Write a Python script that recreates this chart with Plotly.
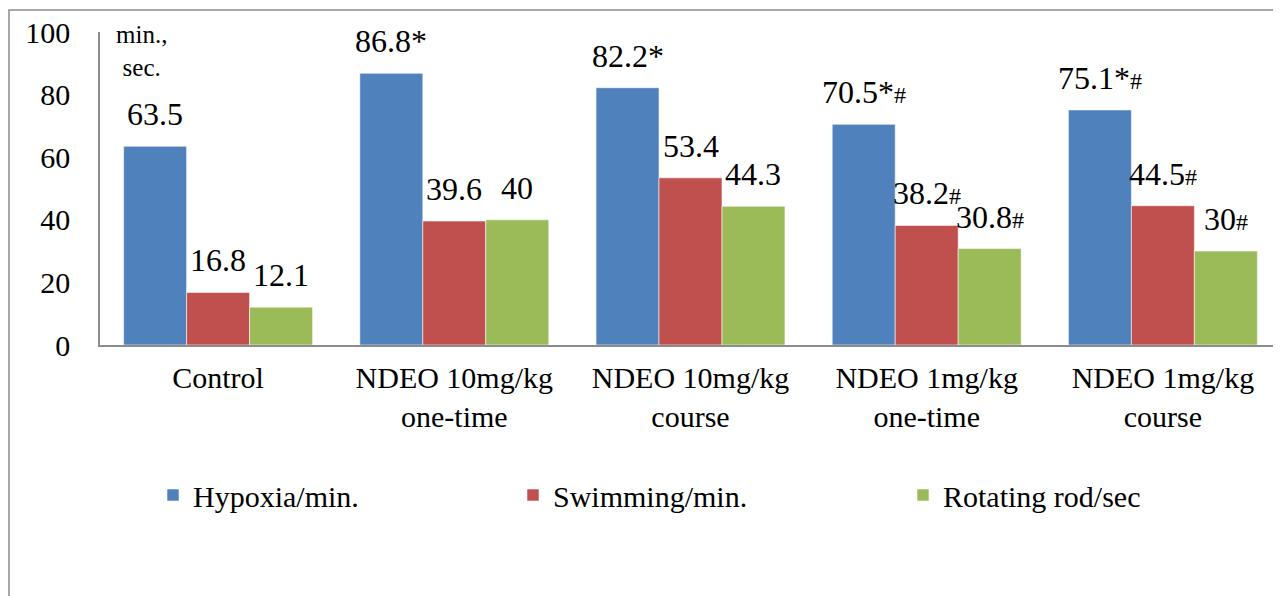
import plotly.graph_objects as go

categories = ["Control", "NDEO 10mg/kg<br>one-time", "NDEO 10mg/kg<br>course",
              "NDEO 1mg/kg<br>one-time", "NDEO 1mg/kg<br>course"]
series_names = ["Hypoxia/min.", "Swimming/min.", "Rotating rod/sec"]
hypoxia = [63.5, 86.8, 82.2, 70.5, 75.1]
swimming = [16.8, 39.6, 53.4, 38.2, 44.5]
rotating = [12.1, 40, 44.3, 30.8, 30]
hypoxia_marks = ["", "*", "*", "*#", "*#"]
swimming_marks = ["", "", "", "#", "#"]
rotating_marks = ["", "", "", "#", "#"]
y_ticks = [0, 20, 40, 60, 80, 100]
unit_text = "min.,<br>sec."

colors = ["#4F81BD", "#C0504D", "#9BBB59"]
FONT = "'Liberation Serif', Tinos, 'Times New Roman', 'DejaVu Serif', serif"

OFF = 8  # page body margin
W, H = 1281 - OFF, 596 - OFF
# target screen geometry
PX_L, PX_R, PX_T, PX_B = 100, 1281, 32, 345
ML = PX_L - OFF
MR = W - (PX_R - OFF)
MT = PX_T - OFF
MB = H - (PX_B - OFF)
PW = W - ML - MR
PH = H - MT - MB
bargap = 0.2


def fmt(v):
    return ("%g" % v)


def px_x(sx):
    return (sx - PX_L) / PW


def px_y(sy):
    return (PX_B - sy) / PH


fig = go.Figure()
all_vals = [hypoxia, swimming, rotating]
all_marks = [hypoxia_marks, swimming_marks, rotating_marks]
legends = ["legend", "legend2", "legend3"]
for i, (name, vals) in enumerate(zip(series_names, all_vals)):
    fig.add_trace(go.Bar(
        x=categories, y=vals, name=name,
        marker=dict(color=colors[i], line=dict(width=0.8, color="rgba(255,255,255,0.7)")),
        legend=legends[i], showlegend=True,
    ))

# data labels
bar_px = PW / len(categories) * (1 - bargap) / 3
for i in range(3):
    for j, cat in enumerate(categories):
        txt = fmt(all_vals[i][j])
        for ch in all_marks[i][j]:
            if ch == "#":
                txt += '<span style="font-size:24px">#</span>'
            else:
                txt += ch
        fig.add_annotation(
            x=cat, y=all_vals[i][j], xref="x", yref="y",
            text=txt, showarrow=False,
            xanchor="center", yanchor="bottom",
            xshift=(i - 1) * bar_px, yshift=12,
            font=dict(family=FONT, size=32, color="black"),
        )

# unit annotation
fig.add_annotation(
    x=px_x(141), y=px_y(19), xref="paper", yref="paper",
    text=unit_text, showarrow=False, xanchor="center", yanchor="top",
    font=dict(family=FONT, size=25, color="black"), align="center",
)

# outer frame
fig.add_shape(type="rect", xref="paper", yref="paper",
              x0=px_x(9), x1=px_x(1300),
              y0=px_y(620), y1=px_y(10),
              line=dict(color="#8C8C8C", width=1.5), fillcolor="rgba(0,0,0,0)",
              layer="below")

leg_common = dict(orientation="h", yanchor="middle", xanchor="left",
                  font=dict(family=FONT, size=30, color="black"),
                  bgcolor="rgba(0,0,0,0)")
ly = px_y(495)
fig.update_layout(
    width=W, height=H, showlegend=True,
    margin=dict(l=ML, r=MR, t=MT, b=MB, pad=0),
    paper_bgcolor="white", plot_bgcolor="white",
    barmode="group", bargap=bargap, bargroupgap=0,
    font=dict(family=FONT, size=30, color="black"),
    legend=dict(x=px_x(153), y=ly, **leg_common),
    legend2=dict(x=px_x(513), y=ly, **leg_common),
    legend3=dict(x=px_x(903), y=ly, **leg_common),
    xaxis=dict(showline=True, linecolor="#8C8C8C", linewidth=1.5,
               ticks="", showgrid=False, ticklabelstandoff=5,
               tickfont=dict(family=FONT, size=30, color="black")),
    yaxis=dict(range=[0, 100], tickvals=y_ticks, showline=True,
               linecolor="#8C8C8C", linewidth=1.5, ticks="", showgrid=False,
               zeroline=False, ticklabelstandoff=22,
               tickfont=dict(family=FONT, size=30, color="black")),
)

fig.write_html("out.html")
